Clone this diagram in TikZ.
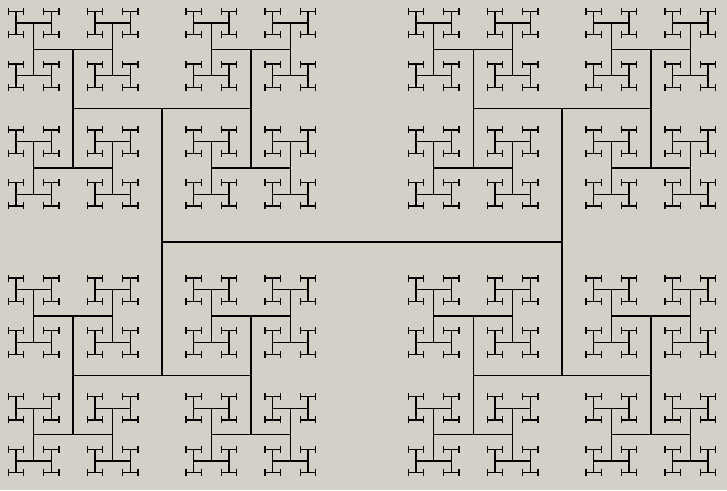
\documentclass[tikz,border=0pt]{standalone}
\usepackage{tikz}
\usepackage{xcolor}

\definecolor{panelgray}{HTML}{D4D0C8}

\tikzset{hbranch/.style={black, line width=0.35pt}}

% H-tree: one bar from (-1,0) to (1,0), then a turned, shrunk copy at each end
\newcommand\htree[1]{%
  \ifnum#1>0
    \draw[hbranch] (-1,0) -- (1,0);
    \pgfmathtruncatemacro\sublevel{#1-1}%
    \pgfmathsetmacro\subratio{\sublevel==1 ? 0.45 : 2/3}%
    \foreach \side in {-1,1} {
      \begin{scope}[shift={(\side,0)}, rotate=90, scale=\subratio]
        \htree{\sublevel}
      \end{scope}
    }
  \fi}

\begin{document}
\begin{tikzpicture}

% Background
\fill[panelgray] (0,0) rectangle (7.27,4.90);
\useasboundingbox (0,0) rectangle (7.27,4.90);

% H-tree, ten levels
\begin{scope}[shift={(3.62,2.48)}, scale=2]
  \htree{10}
\end{scope}

\end{tikzpicture}
\end{document}
